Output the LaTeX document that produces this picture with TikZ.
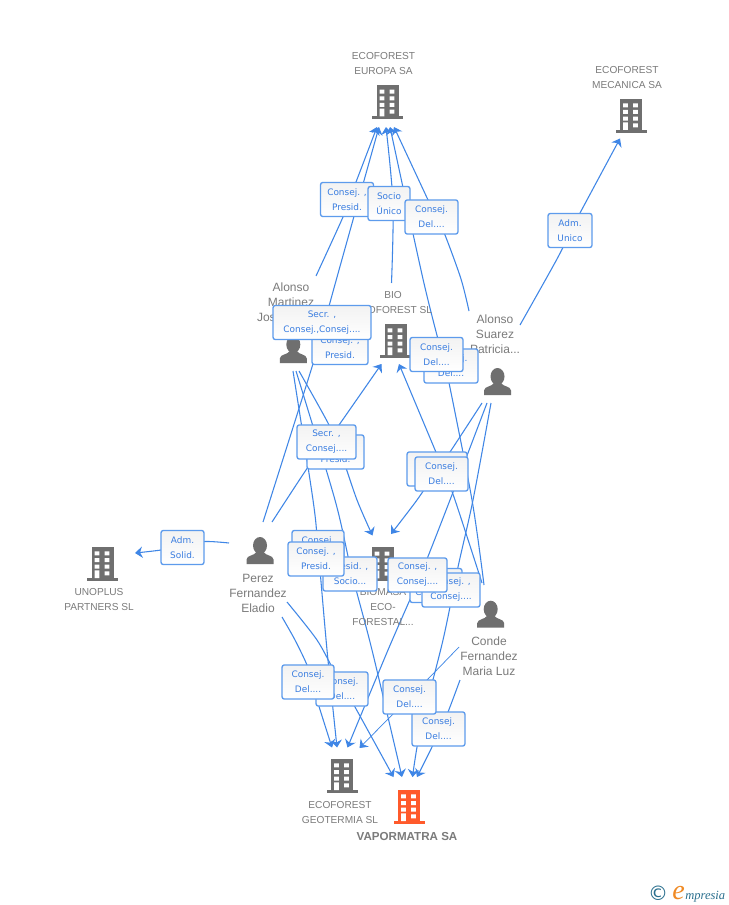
\documentclass[tikz,border=0pt]{standalone}
\usepackage{fontspec}
\setmainfont{Liberation Sans}
\newfontfamily\tagfont{DejaVu Sans}
\newfontfamily\logofont{Liberation Serif}
\usetikzlibrary{arrows.meta,backgrounds}
\definecolor{icongray}{HTML}{6F6F6F}
\definecolor{textgray}{HTML}{7B7B7B}
\definecolor{linkblue}{HTML}{3F86E6}
\definecolor{tagblue}{HTML}{3A7DE0}
\definecolor{tagedge}{HTML}{5D9BEC}
\definecolor{hot}{HTML}{FF5A2B}
\definecolor{logoteal}{HTML}{2A6F8E}
\definecolor{logoorange}{HTML}{F08A24}
\tikzset{
  link/.style={draw=linkblue,line width=0.8pt,-{Stealth[length=5.6pt,width=8.5pt,inset=1.8pt]}},
  thinlink/.style={link,line width=0.55pt},
  tag/.style={draw=tagedge,line width=1pt,rounded corners=1.8pt,top color=black!5,bottom color=white,
    inner sep=0pt,minimum height=25.6pt,minimum width=#1*0.75pt,align=center,text=tagblue,
    font=\tagfont\fontsize{6.7}{11.25}\selectfont},
  name7/.style={text=textgray,align=center,inner sep=0pt,font=\fontsize{7.6}{11.25}\selectfont},
  name9/.style={text=textgray,align=center,inner sep=0pt,font=\fontsize{9}{11.25}\selectfont},
  iconbox/.style={inner sep=0pt,minimum width=23pt,minimum height=25pt},
  pics/building/.style={code={
    \fill[#1] (-11,-34) rectangle (11,-2);
    \fill[#1] (-15.5,-3) rectangle (15.5,0);
    \fill[white] (-7.8,-29.3) rectangle (-3.2,-25.3) (2.2,-29.3) rectangle (6.8,-25.3)
      (-7.8,-22.7) rectangle (-3.2,-18.7) (2.2,-22.7) rectangle (6.8,-18.7)
      (-7.8,-16) rectangle (-3.2,-12) (2.2,-16) rectangle (6.8,-12)
      (-7.8,-10.3) rectangle (-3.2,-2.7) (2.2,-9.3) rectangle (6.8,-5.3);
  }},
  pics/person/.style={code={
    \fill[icongray] (0,-18.5) ellipse (7 and 8.5);
    \fill[icongray] (-13.5,0) -- (-13.5,-4.5) .. controls (-13,-9) and (-6,-8) .. (-3.5,-12)
      -- (3.5,-12) .. controls (6,-8) and (13,-9) .. (13.5,-4.5) -- (13.5,0) -- cycle;
  }}
}
\begin{document}
\begin{tikzpicture}[x=0.75pt,y=-0.75pt]
\useasboundingbox (0,0) rectangle (728,905);

% icons
\pic at (387.5,119) {building=icongray};
\node[iconbox] (eu) at (387.5,102) {};
\pic at (631,132.7) {building=icongray};
\node[iconbox] (mec) at (631,115.7) {};
\pic at (395.5,357.7) {building=icongray};
\node[iconbox] (bio) at (395.5,340.7) {};
\pic at (382.5,581) {building=icongray};
\node[iconbox] (biom) at (382.5,564) {};
\pic at (342,792.7) {building=icongray};
\node[iconbox] (geo) at (342,775.7) {};
\pic at (409,823.7) {building=hot};
\node[iconbox] (vap) at (409,806.7) {};
\pic at (102.5,580.7) {building=icongray};
\node[iconbox] (uno) at (102.5,563.7) {};
\pic at (293.3,363) {person};
\node[iconbox] (mart) at (293.3,349) {};
\pic at (497.5,395) {person};
\node[iconbox] (suar) at (497.5,381) {};
\pic at (260,564) {person};
\node[iconbox] (perez) at (260,550) {};
\pic at (490.7,627.7) {person};
\node[iconbox] (conde) at (490.7,614) {};

% names
\node[name7] (neu) at (383.5,63.5) {ECOFOREST\\EUROPA SA};
\node[name7] (nmec) at (627,77.5) {ECOFOREST\\MECANICA SA};
\node[name7] (nbio) at (393,302.5) {BIO\\ECOFOREST SL};
\node[name9] (nmart) at (291,302) {Alonso\\Martinez\\\makebox[51pt][l]{Jos}};
\node[name9] (nsuar) at (495,334) {Alonso\\Suarez\\Patricia...};
\node[name9] (nperez) at (258,593) {Perez\\Fernandez\\Eladio};
\node[name7] (nbiom) at (383,607) {BIOMASA\\ECO-\\FORESTAL...};
\node[name9] (nconde) at (489,656.5) {Conde\\Fernandez\\Maria Luz};
\node[name7] (ngeo) at (340,812.5) {ECOFOREST\\GEOTERMIA SL};
\node[name7] (nuno) at (99,600) {UNOPLUS\\PARTNERS SL};
\node[text=textgray,inner sep=0pt,font=\bfseries\fontsize{8.7}{11}\selectfont] (nvap) at (407,836) {VAPORMATRA SA};

% relation tags, back to front
\node[tag=53] (lPres) at (347,199.5) {Consej. ,\\Presid.};
\node[tag=42] (lSocio) at (389,203.5) {Socio\\Único};
\node[tag=53] (lDelEu) at (431.5,217) {Consej.\\Del....};
\node[tag=44] (lUnico) at (570,230.5) {Adm.\\Unico};
\node[tag=56] (lPresB) at (340,347.5) {Consej. ,\\Presid.};
\node[tag=98] (lSec) at (322,322.5) {Secr. ,\\Consej.,Consej....};
\node[tag=54] (lDelB) at (451,366) {Consej.\\Del....};
\node[tag=53] (lDelA) at (436.5,354.5) {Consej.\\Del....};
\node[tag=57] (lPresC) at (335.5,452) {Consej. ,\\Presid.};
\node[tag=59] (lSecB) at (326.5,442) {Secr. ,\\Consej....};
\node[tag=60] (lDelC) at (437,469) {Consej.\\Del....};
\node[tag=53] (lDelD) at (441.5,474) {Consej.\\Del....};
\node[tag=52] (lConsA) at (318,547.5) {Consej.\\Del....};
\node[tag=43] (lSolid) at (182.5,547.5) {Adm.\\Solid.};
\node[tag=54] (lSocioB) at (350,574) {Presid. ,\\Socio...};
\node[tag=56] (lPresD) at (316,559) {Consej. ,\\Presid.};
\node[tag=52] (lConsB) at (436,585.5) {Consej. ,\\Consej....};
\node[tag=58] (lConsC) at (451,590) {Consej. ,\\Consej....};
\node[tag=59] (lConsD) at (417.5,575) {Consej. ,\\Consej....};
\node[tag=52] (lDelE) at (342,689) {Consej.\\Del....};
\node[tag=52] (lDelF) at (308,682) {Consej.\\Del....};
\node[tag=53] (lDelG) at (438.5,729) {Consej.\\Del....};
\node[tag=53] (lDelH) at (409.5,697) {Consej.\\Del....};

% connector ends
\coordinate (mEu) at (316,276);
\coordinate (mGeo) at (293,371);
\coordinate (mVap) at (296,371);
\coordinate (mBiom) at (299,371);
\coordinate (sEu) at (469,311);
\coordinate (sMec) at (520,325);
\coordinate (sBiom) at (482,403);
\coordinate (sGeo) at (487,403);
\coordinate (sVap) at (491,403);
\coordinate (pEu) at (263,522);
\coordinate (pBio) at (272,522);
\coordinate (pUno) at (229,543);
\coordinate (pVap) at (287,602);
\coordinate (pGeo) at (282,617);
\coordinate (cEu) at (484,585);
\coordinate (cBio) at (482,583);
\coordinate (cGeo) at (459,647);
\coordinate (cVap) at (460,680);
\coordinate (bEu) at (391.5,283);
\coordinate (euA) at (377,127);
\coordinate (euB) at (379,127);
\coordinate (euC) at (386,127);
\coordinate (euD) at (390,127);
\coordinate (euE) at (394,127);
\coordinate (mecA) at (620,138.5);
\coordinate (bioA) at (381.5,364);
\coordinate (bioB) at (399,364);
\coordinate (biomA) at (372.5,535.5);
\coordinate (biomB) at (391,534);
\coordinate (geoA) at (332,747.5);
\coordinate (geoB) at (337,747.5);
\coordinate (geoC) at (347.5,747.5);
\coordinate (geoD) at (359.5,748);
\coordinate (unoA) at (135,553);
\coordinate (vapA) at (393.5,777);
\coordinate (vapB) at (402,777);
\coordinate (vapC) at (412.5,777);
\coordinate (vapD) at (417,777);

\begin{scope}[on background layer]
\fill[white] (0,0) rectangle (728,905);
\draw[link] plot[smooth,tension=.5] coordinates {(mEu) (343,217) ([shift={(2,0)}]lPres.center) (356,182) (euA)};
\draw[link] plot[smooth,tension=.5] coordinates {(pEu) (270,500) (312,367) ([shift={(2.5,0)}]lSec.center) (339,270) (euB)};
\draw[link] plot[smooth,tension=.5] coordinates {(bEu) ([shift={(4,0)}]lSocio.center) (euC)};
\draw[link] plot[smooth,tension=.5] coordinates {(cEu) (472,500) (447,373) ([shift={(5.5,0)}]lDelA.center) (423,279) (euD)};
\draw[link] plot[smooth,tension=.5] coordinates {(sEu) (461,279) (445,235) ([shift={(4.5,0)}]lDelEu.center) (euE)};
\draw[link] plot[smooth,tension=.5] coordinates {(pBio) (308,467) ([shift={(0,0)}]lSecB.center) (339,425) (bioA)};
\draw[link] plot[smooth,tension=.5] coordinates {(cBio) (455,500) ([shift={(6,0)}]lDelC.center) (438,457) (bioB)};
\draw[link] plot[smooth,tension=.5] coordinates {(sBiom) (450,452) ([shift={(-7,0)}]lDelD.center) (417,500) (biomB)};
\draw[link] plot[smooth,tension=.5] coordinates {(sGeo) (450,500) ([shift={(3,0)}]lConsD.center) (388,650) (geoC)};
\draw[link] plot[smooth,tension=.5] coordinates {(sVap) (473,500) (458,567) (443,640) ([shift={(-18,0)}]lDelG.center) (vapC)};
\draw[link] plot[smooth,tension=.5] coordinates {(cVap) (448,712) ([shift={(1.5,0)}]lDelG.center) (432,747) (vapD)};
\draw[thinlink] plot[smooth,tension=.5] coordinates {(cGeo) (427,680) ([shift={(0.5,0)}]lDelH.center) (393,714) (geoD)};
\draw[link] plot[smooth,tension=.5] coordinates {(mBiom) (328,423) ([shift={(5,0)}]lPresC.center) (357,500) (biomA)};
\draw[link] plot[smooth,tension=.5] coordinates {(mGeo) (313,500) ([shift={(0,0)}]lConsA.center) (327,650) (geoB)};
\draw[link] plot[smooth,tension=.5] coordinates {(mVap) (335,500) ([shift={(2,0)}]lSocioB.center) (372,650) (vapB)};
\draw[link] plot[smooth,tension=.5] coordinates {(pVap) (317,640) (335,673) ([shift={(2.5,0)}]lDelE.center) (355,707) (vapA)};
\draw[link] plot[smooth,tension=.5] coordinates {(pGeo) (295,640) (307,665) ([shift={(4,0)}]lDelF.center) (317,700) (geoA)};
\draw[link] plot[smooth,tension=.5] coordinates {(pUno) (205,541.5) ([shift={(0,-2)}]lSolid.center) (161,550) (unoA)};
\draw[link] plot[smooth,tension=.5] coordinates {(sMec) (557,259) ([shift={(1,0)}]lUnico.center) (580,213) (mecA)};
\end{scope}

% logo
\node[inner sep=0pt,text=logoteal,font=\tagfont\fontsize{15}{15}\selectfont] (lc) at (658,893) {©};
\node[inner sep=0pt,anchor=base west,text=logoorange,font=\logofont\itshape\fontsize{21}{21}\selectfont] (le) at (672,899) {e};
\node[inner sep=0pt,anchor=base west,text=logoteal,font=\logofont\itshape\fontsize{9.4}{12}\selectfont] (lm) at (685,899) {mpresia};
\end{tikzpicture}
\end{document}
